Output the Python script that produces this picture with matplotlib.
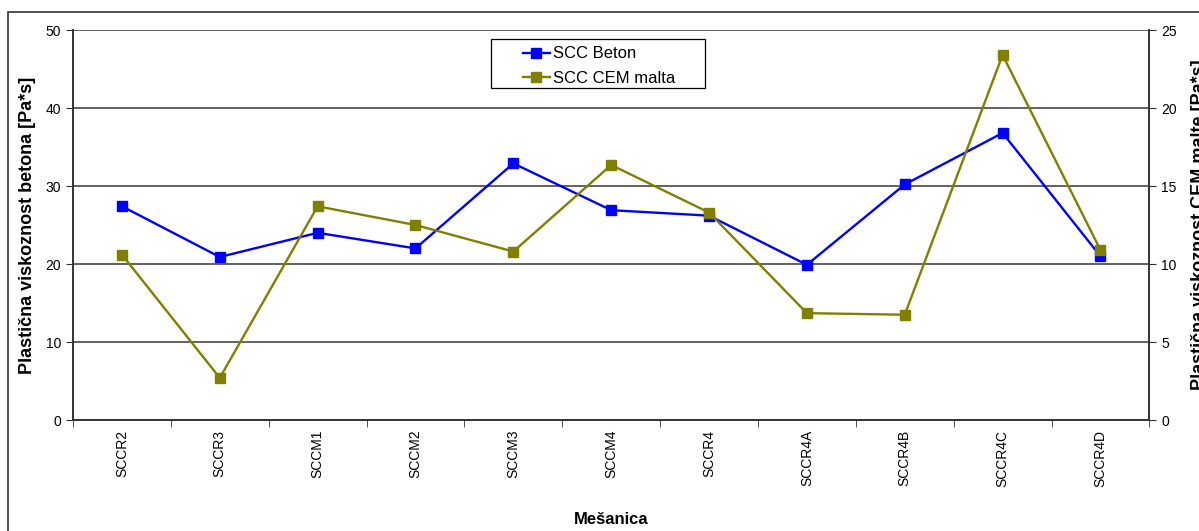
import matplotlib
matplotlib.use("Agg")
import matplotlib.pyplot as plt
from matplotlib.patches import Rectangle

plt.rcParams['font.family'] = ['Liberation Sans', 'DejaVu Sans']

mixes = ['SCCR2', 'SCCR3', 'SCCM1', 'SCCM2', 'SCCM3', 'SCCM4', 'SCCR4',
         'SCCR4A', 'SCCR4B', 'SCCR4C', 'SCCR4D']
beton = [27.4, 20.9, 24.0, 22.0, 32.9, 26.9, 26.2, 19.9, 30.2, 36.8, 21.0]
malta = [10.6, 2.7, 13.7, 12.5, 10.8, 16.35, 13.3, 6.85, 6.75, 23.4, 10.9]

fig = plt.figure(figsize=(11.99, 5.31), dpi=100)
ax = fig.add_axes([0.0609, 0.209, 0.8977, 0.7345])
ax2 = ax.twinx()

# outer chart frame
fig.patches.append(Rectangle((8 / 1199, -0.1), 1.2, 1 - 12 / 531 + 0.1,
                             transform=fig.transFigure, fill=False,
                             edgecolor='#333333', linewidth=1.2))

x = list(range(len(mixes)))
l1, = ax.plot(x, beton, '-s', color='#0000ff', lw=1.7, ms=6.5, label='SCC Beton')
l2, = ax2.plot(x, malta, '-s', color='#808000', lw=1.7, ms=6.5, label='SCC CEM malta')

ax.set_xlim(-0.5, len(mixes) - 0.5)
ax.set_ylim(0, 50)
ax2.set_ylim(0, 25)
ax.set_yticks(range(0, 51, 10))
ax2.set_yticks(range(0, 26, 5))

ax.set_xticks(x)
ax.set_xticklabels(mixes, rotation=90, fontsize=10)
ax.tick_params(axis='x', length=0, pad=7)
ax.set_xticks([i + 0.5 for i in range(-1, len(mixes))], minor=True)
ax.tick_params(axis='x', which='minor', length=5, direction='out', color='#333333')

ax.tick_params(axis='y', labelsize=10, length=5, color='#333333')
ax2.tick_params(axis='y', labelsize=10, length=5, color='#333333')

ax.grid(axis='y', color='#555555', lw=1.3)
ax.set_axisbelow(True)
for a in (ax, ax2):
    a.spines['top'].set_visible(False)
    for s in ('left', 'right', 'bottom'):
        a.spines[s].set_color('#333333')
        a.spines[s].set_linewidth(1.2)

ax.set_ylabel('Plastična viskoznost betona [Pa*s]', fontsize=13, fontweight='bold', labelpad=7)
ax2.set_ylabel('Plastična viskoznost CEM malte [Pa*s]', fontsize=13, fontweight='bold',
               rotation=90, labelpad=10)
ax.set_xlabel('Mešanica', fontsize=12, fontweight='bold', labelpad=18)

# legend box drawn separately so the entries can sit off-centre like the original
ax2.add_patch(Rectangle((0.388, 0.851), 0.1987, 0.1256, transform=ax2.transAxes,
                        facecolor='white', edgecolor='black', lw=0.9, zorder=5))
leg = ax2.legend([l1, l2], ['SCC Beton', 'SCC CEM malta'], loc='upper left',
                 bbox_to_anchor=(0.418, 0.958), fontsize=12, frameon=False,
                 handlelength=1.6, handletextpad=0.2, borderpad=0.0,
                 labelspacing=0.55, borderaxespad=0)
leg.set_zorder(6)

fig.savefig('out.png', dpi=100)
